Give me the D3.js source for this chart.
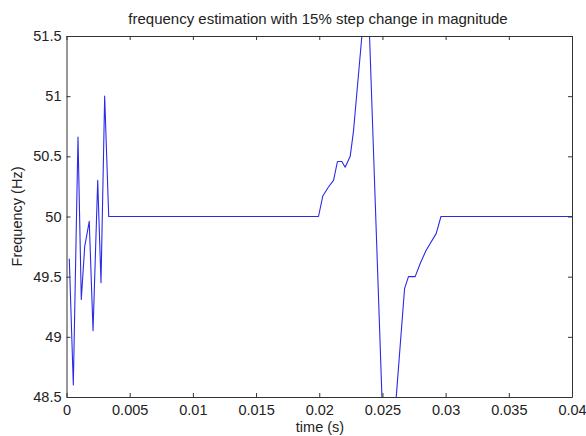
<!DOCTYPE html>
<html>
<head>
<meta charset="utf-8">
<script src="https://cdn.jsdelivr.net/npm/d3@7"></script>
<style>
  html, body { margin: 0; padding: 0; background: #fff; }
  svg { display: block; }
  text { font-family: "Liberation Sans", Arial, sans-serif; fill: #222; }
</style>
</head>
<body>
<svg id="chart" width="586" height="436"></svg>
<script>
// Estimated frequency (Hz) against time (s)
const timeS = [
  0.00022, 0.00054, 0.00091, 0.00117, 0.00144, 0.0018, 0.0021, 0.00247, 0.00273, 0.00302, 0.00334,
  0.01994, 0.02028, 0.02073, 0.02113, 0.02144, 0.02179, 0.02205, 0.02245, 0.02271, 0.02381,
  0.02531, 0.02675, 0.02706, 0.02759, 0.02799, 0.02846, 0.02926, 0.02963, 0.04
];
const freqHz = [
  49.65, 48.6, 50.66, 49.31, 49.75, 49.96, 49.05, 50.30, 49.45, 51.0, 50.0,
  50.0, 50.17, 50.245, 50.30, 50.457, 50.457, 50.41, 50.5, 50.71, 52.02,
  47.43, 49.40, 49.50, 49.50, 49.61, 49.72, 49.86, 50.0, 50.0
];
const xTicks = [0, 0.005, 0.01, 0.015, 0.02, 0.025, 0.03, 0.035, 0.04];
const xTickLabels = ["0", "0.005", "0.01", "0.015", "0.02", "0.025", "0.03", "0.035", "0.04"];
const yTicks = [48.5, 49, 49.5, 50, 50.5, 51, 51.5];
const yTickLabels = ["48.5", "49", "49.5", "50", "50.5", "51", "51.5"];

const svg = d3.select("#chart");
const plotL = 66.5, plotR = 572, plotT = 36, plotB = 397;

const x = d3.scaleLinear().domain([0, 0.04]).range([plotL, plotR]);
const y = d3.scaleLinear().domain([48.5, 51.5]).range([plotB, plotT]);

svg.append("defs").append("clipPath").attr("id", "plot-clip")
  .append("rect").attr("x", plotL).attr("y", plotT)
  .attr("width", plotR - plotL).attr("height", plotB - plotT);

// Signal trace
const line = d3.line().x((d, i) => x(timeS[i])).y(d => y(d));
svg.append("path")
  .datum(freqHz)
  .attr("clip-path", "url(#plot-clip)")
  .attr("fill", "none")
  .attr("stroke", "#2a2ae8")
  .attr("stroke-width", 1.1)
  .attr("stroke-linejoin", "round")
  .attr("d", line);

// Axes: ticks point inward on all four sides
const tickLen = 4;
const fmtX = (d, i) => xTickLabels[i];
const fmtY = (d, i) => yTickLabels[i];

const axisBottom = d3.axisBottom(x).tickValues(xTicks).tickFormat(fmtX)
  .tickSizeInner(-tickLen).tickSizeOuter(0).tickPadding(8);
const axisTop = d3.axisTop(x).tickValues(xTicks).tickFormat("")
  .tickSizeInner(-tickLen).tickSizeOuter(0);
const axisLeft = d3.axisLeft(y).tickValues(yTicks).tickFormat(fmtY)
  .tickSizeInner(-tickLen).tickSizeOuter(0).tickPadding(5);
const axisRight = d3.axisRight(y).tickValues(yTicks).tickFormat("")
  .tickSizeInner(-tickLen).tickSizeOuter(0);

const gB = svg.append("g").attr("transform", `translate(0,${plotB})`).call(axisBottom);
const gT = svg.append("g").attr("transform", `translate(0,${plotT})`).call(axisTop);
const gL = svg.append("g").attr("transform", `translate(${plotL},0)`).call(axisLeft);
const gR = svg.append("g").attr("transform", `translate(${plotR},0)`).call(axisRight);

[gB, gT, gL, gR].forEach(g => {
  g.selectAll(".domain").attr("stroke", "#333").attr("stroke-width", 1);
  g.selectAll(".tick line").attr("stroke", "#333").attr("stroke-width", 1);
  g.selectAll(".tick text")
    .style("font-family", "'Liberation Sans', Arial, sans-serif")
    .style("font-size", "14.5px").attr("fill", "#222");
});

// Title and axis labels
svg.append("text")
  .attr("x", 318).attr("y", 24)
  .attr("text-anchor", "middle").style("font-size", "15px")
  .text("frequency estimation with 15% step change in magnitude");

svg.append("text")
  .attr("x", 320).attr("y", 432)
  .attr("text-anchor", "middle").style("font-size", "14.5px")
  .text("time (s)");

svg.append("text")
  .attr("transform", `translate(22,${(plotT + plotB) / 2}) rotate(-90)`)
  .attr("text-anchor", "middle").style("font-size", "14.5px")
  .text("Frequency (Hz)");
</script>
</body>
</html>
